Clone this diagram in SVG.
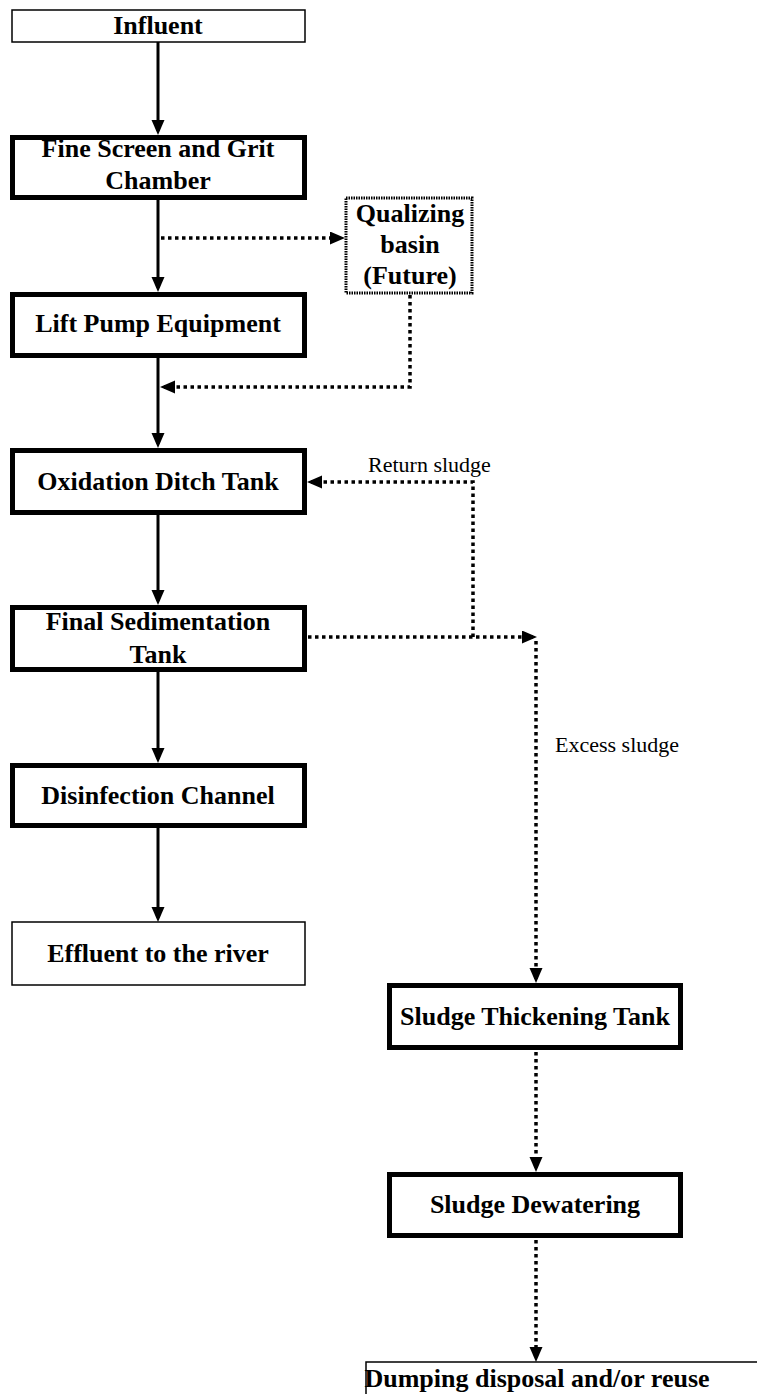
<svg xmlns="http://www.w3.org/2000/svg" width="757" height="1394" viewBox="0 0 757 1394">
<style>
.thin{fill:#fff;stroke:#000;stroke-width:1.5}
.thick{fill:#fff;stroke:#000;stroke-width:5}
.qbox{fill:#fff;stroke:#000;stroke-width:3;stroke-dasharray:1.5 1}
.t{font-family:"Liberation Serif","Times New Roman",serif;font-weight:bold;font-size:26px;text-anchor:middle;fill:#000}
.lbl{font-family:"Liberation Serif","Times New Roman",serif;font-size:22px;fill:#000}
.solid{fill:none;stroke:#000;stroke-width:3;marker-end:url(#arr)}
.dot{fill:none;stroke:#000;stroke-width:3.5;stroke-dasharray:3.5 3.5}
.dota{fill:none;stroke:#000;stroke-width:3.5;stroke-dasharray:3.5 3.5;marker-end:url(#arr)}
</style>
<defs>
<marker id="arr" markerUnits="userSpaceOnUse" markerWidth="18" markerHeight="14" refX="11" refY="6.5" orient="auto">
<path d="M0,0 L15,6.5 L0,13 Z" fill="#000"/>
</marker>
</defs>
<rect width="757" height="1394" fill="#fff"/>
<g id="connectors">
<path class="solid" d="M158,42 V131"/>
<path class="solid" d="M158,200 V288"/>
<path class="solid" d="M158,358 V444"/>
<path class="solid" d="M158,515 V601"/>
<path class="solid" d="M158,672 V759"/>
<path class="solid" d="M158,828 V918"/>
<path class="dota" d="M161,238 H341"/>
<path class="dota" d="M410,295 V387 H164"/>
<path class="dota" d="M473,637 V482 H311"/>
<path class="dota" d="M308,637 H533"/>
<path class="dota" d="M536,641 V979"/>
<path class="dota" d="M536,1052 V1168"/>
<path class="dota" d="M536,1240 V1358"/>
</g>
<g id="n-influent"><rect class="thin" x="12" y="10" width="293" height="32"/><text class="t" x="158" y="34">Influent</text></g>
<g id="n-finescreen"><rect class="thick" x="12.5" y="137.5" width="292" height="60"/><text class="t" x="158" y="157">Fine Screen and Grit</text><text class="t" x="158" y="189">Chamber</text></g>
<g id="n-qualizing"><rect class="qbox" x="346" y="198" width="126" height="95"/><text class="t" x="410" y="222">Qualizing</text><text class="t" x="410" y="253">basin</text><text class="t" x="410" y="284">(Future)</text></g>
<g id="n-liftpump"><rect class="thick" x="12.5" y="294.5" width="292" height="61"/><text class="t" x="158" y="332">Lift Pump Equipment</text></g>
<g id="n-oxidation"><rect class="thick" x="12.5" y="450.5" width="292" height="62"/><text class="t" x="158" y="490">Oxidation Ditch Tank</text></g>
<g id="n-finalsed"><rect class="thick" x="12.5" y="607.5" width="292" height="62"/><text class="t" x="158" y="630">Final Sedimentation</text><text class="t" x="158" y="663">Tank</text></g>
<g id="n-disinfection"><rect class="thick" x="12.5" y="765.5" width="292" height="60"/><text class="t" x="158" y="804">Disinfection Channel</text></g>
<g id="n-effluent"><rect class="thin" x="12" y="922" width="293" height="63"/><text class="t" x="158" y="962">Effluent to the river</text></g>
<g id="n-thickening"><rect class="thick" x="389.5" y="985.5" width="291" height="62"/><text class="t" x="535" y="1025">Sludge Thickening Tank</text></g>
<g id="n-dewatering"><rect class="thick" x="389.5" y="1174.5" width="291" height="61"/><text class="t" x="535" y="1213">Sludge Dewatering</text></g>
<g id="n-dumping"><rect class="thin" x="366" y="1362" width="400" height="40"/><text class="t" x="537" y="1387">Dumping disposal and/or reuse</text></g>
<g id="labels">
<text class="lbl" x="368" y="472">Return sludge</text>
<text class="lbl" x="555" y="752">Excess sludge</text>
</g>
</svg>
